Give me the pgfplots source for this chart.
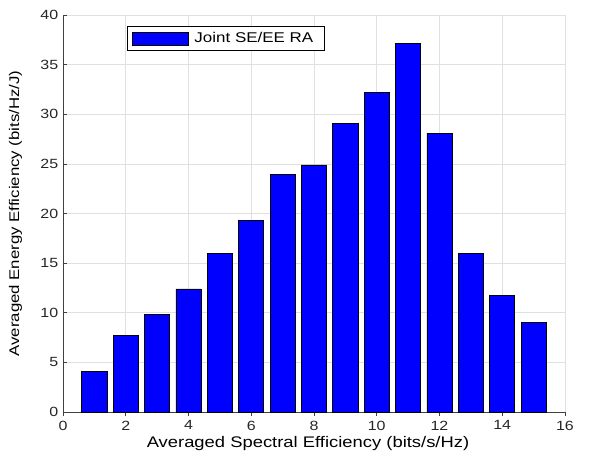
\documentclass[border=0pt]{standalone}
\usepackage{fontspec}
\setmainfont{Liberation Sans}
\newfontfamily\wide[FakeStretch=1.2]{Liberation Sans}
\usepackage{pgfplots}
\pgfplotsset{compat=1.18}
\pgfplotsset{mylegend/.style={legend image code/.code={\draw[##1] (0pt,-4.75pt) rectangle (42pt,4.75pt);}}}
\begin{document}
\begin{tikzpicture}
\begin{axis}[
  name=ax,
  scale only axis,
  width=376.5pt, height=297.75pt,
  xmin=0, xmax=16, ymin=0, ymax=40,
  xtick={0,2,...,16}, ytick={0,5,...,40},
  axis x line*=bottom, axis y line*=left,
  axis line style={-, draw=black!75, line width=0.6pt},
  tick style={draw=black!75, line width=0.5pt},
  tick align=inside, major tick length=3pt,
  grid=major,
  major grid style={draw=black!12, line width=0.4pt},
  /pgf/number format/assume math mode=true,
  tick label style={font=\wide\fontsize{10}{12}\selectfont, text=black!85},
  xlabel={Averaged Spectral Efficiency (bits/s/Hz)},
  ylabel={Averaged Energy Efficiency (bits/Hz/J)},
  xlabel style={font=\wide\fontsize{11.5}{13}\selectfont, yshift=2pt, xshift=-4.5pt},
  ylabel style={font=\wide\fontsize{10.5}{12}\selectfont, yshift=7pt},
  ybar, bar width=0.8,
  legend style={draw=black, line width=0.6pt, at={(0.127,0.972)}, anchor=north west,
    font=\wide\fontsize{10.6}{12}\selectfont, inner xsep=4pt, inner ysep=2.5pt,
    legend cell align=left, nodes={inner xsep=4pt}},
]
\addplot[fill=blue, draw=black, line width=0.5pt, mylegend]
  coordinates {
  (1,4.1) (2,7.75) (3,9.8) (4,12.4) (5,16.0) (6,19.3) (7,23.9) (8,24.9)
  (9,29.1) (10,32.2) (11,37.1) (12,28.1) (13,16.0) (14,11.75) (15,9.06)
  };
\addlegendentry{Joint SE/EE RA}
\end{axis}
\useasboundingbox ([xshift=-47.25pt,yshift=-36.75pt]ax.south west) rectangle ([xshift=21pt,yshift=11.25pt]ax.north east);
\end{tikzpicture}
\end{document}
